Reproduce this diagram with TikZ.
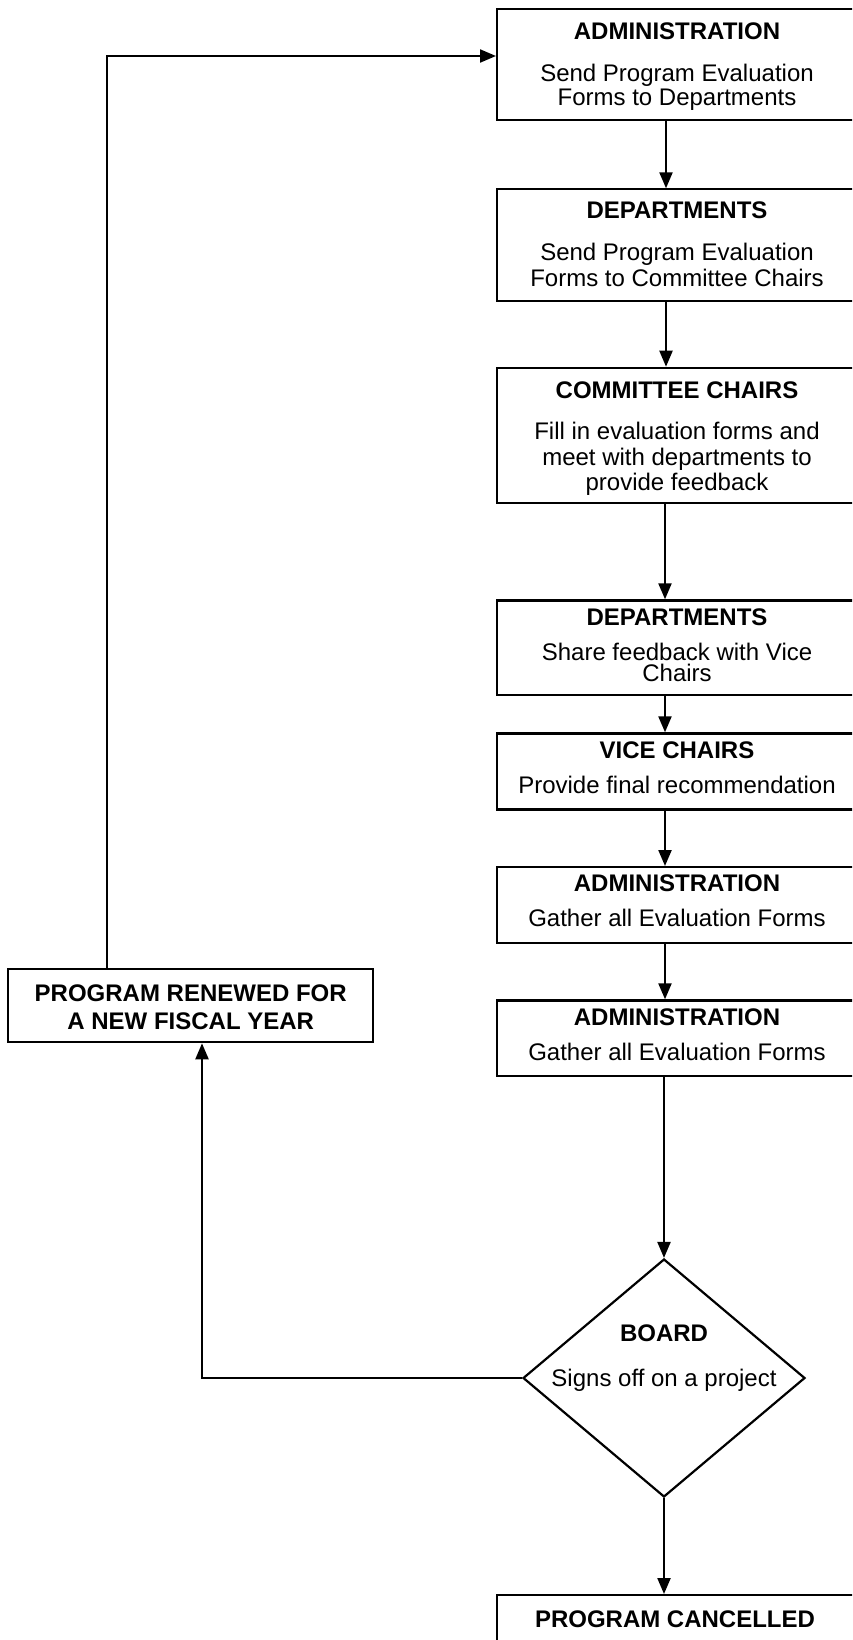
\documentclass[tikz,border=0pt]{standalone}
\usepackage{fontspec}
\setmainfont{Liberation Sans}
\usetikzlibrary{shapes.geometric,arrows.meta}
\tikzset{
  boxnode/.style={draw=black, line width=2.2pt, rectangle, inner sep=0pt, anchor=north west, minimum width=362pt},
  ttl/.style={anchor=base, font=\bfseries\fontsize{24}{25}\selectfont, inner sep=0pt},
  bdy/.style={anchor=base, font=\fontsize{24}{25}\selectfont, inner sep=0pt},
  arr/.style={line width=2.2pt, -{Triangle[length=16pt,width=13pt]}},
  ln/.style={line width=2.2pt}
}
\begin{document}
\begin{tikzpicture}[x=1pt,y=-1pt]
\useasboundingbox (0,0) rectangle (852,1640);
\clip (0,0) rectangle (852,1640);
\fill[white] (0,0) rectangle (852,1640);
% boxes
\node[boxnode, minimum height=111pt] (b1) at (496,8.3) {};
\node[boxnode, minimum height=111.7pt] (b2) at (496,188.3) {};
\node[boxnode, minimum height=135pt] (b3) at (496,366.7) {};
\node[boxnode, minimum height=94.7pt] (b4) at (496,599.3) {};
\node[boxnode, minimum height=76pt] (b5) at (496,732.3) {};
\node[boxnode, minimum height=75.7pt] (b6) at (496,866) {};
\node[boxnode, minimum height=75.7pt] (b7) at (496,999.3) {};
\node[boxnode, minimum height=80pt] (fin) at (496,1594) {};
\node[draw=black, line width=2.2pt, diamond, inner sep=0pt, minimum width=282pt, minimum height=238pt] (dia) at (664,1378) {};
\node[draw=black, line width=2.2pt, rectangle, inner sep=0pt, minimum width=365pt, minimum height=73pt] (ren) at (190.7,1005.7) {};
% texts
\node[ttl] (b1t) at (677,39.3) {ADMINISTRATION};
\node[bdy] (b1a) at (677,81.7) {Send Program Evaluation};
\node[bdy] (b1b) at (677,106) {Forms to Departments};
\node[ttl] (b2t) at (677,218.3) {DEPARTMENTS};
\node[bdy] (b2a) at (677,260) {Send Program Evaluation};
\node[bdy] (b2b) at (677,286) {Forms to Committee Chairs};
\node[ttl] (b3t) at (677,398.3) {COMMITTEE CHAIRS};
\node[bdy] (b3a) at (677,439.3) {Fill in evaluation forms and};
\node[bdy] (b3b) at (677,465) {meet with departments to};
\node[bdy] (b3c) at (677,490) {provide feedback};
\node[ttl] (b4t) at (677,625) {DEPARTMENTS};
\node[bdy] (b4a) at (677,660) {Share feedback with Vice};
\node[bdy] (b4b) at (677,681.7) {Chairs};
\node[ttl] (b5t) at (677,758.3) {VICE CHAIRS};
\node[bdy] (b5a) at (677,793.3) {Provide final recommendation};
\node[ttl] (b6t) at (677,891.7) {ADMINISTRATION};
\node[bdy] (b6a) at (677,926.7) {Gather all Evaluation Forms};
\node[ttl] (b7t) at (677,1025) {ADMINISTRATION};
\node[bdy] (b7a) at (677,1060) {Gather all Evaluation Forms};
\node[ttl] (fint) at (675,1627) {PROGRAM CANCELLED};
\node[ttl] (dt) at (664,1341.7) {BOARD};
\node[bdy] (da) at (664,1386.7) {Signs off on a project};
\node[ttl] (rent) at (190.7,1001.7) {PROGRAM RENEWED FOR};
\node[ttl] (renb) at (190.7,1029.3) {A NEW FISCAL YEAR};
% connectors
\coordinate (spine) at (666,0);
\coordinate (spinelow) at (665,0);
\coordinate (rx) at (202,0);
\coordinate (lx) at (107,0);
\coordinate (ty) at (0,56);
\draw[arr] (b1.south -| spine) -- (b2.north -| spine);
\draw[arr] (b2.south -| spine) -- (b3.north -| spine);
\draw[arr] (b3.south -| spinelow) -- (b4.north -| spinelow);
\draw[arr] (b4.south -| spinelow) -- (b5.north -| spinelow);
\draw[arr] (b5.south -| spinelow) -- (b6.north -| spinelow);
\draw[arr] (b6.south -| spinelow) -- (b7.north -| spinelow);
\draw[arr] (b7.south -| dia.north) -- (dia.north);
\draw[arr] (dia.south) -- (fin.north -| dia.south);
\draw[arr] (dia.west) -| (rx |- ren.south);
\draw[arr] (ren.north -| lx) |- (b1.west |- ty);
\end{tikzpicture}
\end{document}
